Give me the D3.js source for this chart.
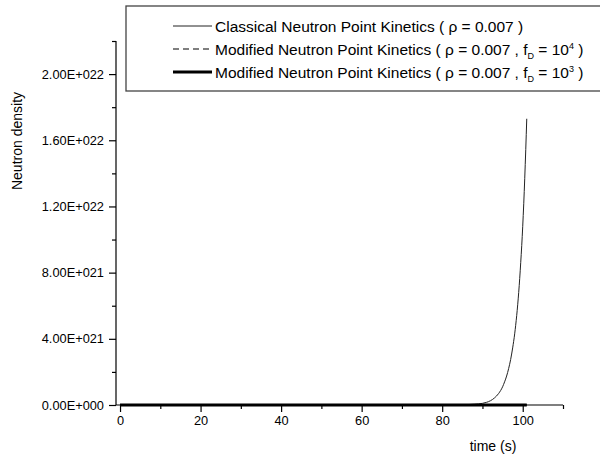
<!DOCTYPE html>
<html><head><meta charset="utf-8">
<script src="https://cdn.jsdelivr.net/npm/d3@7"></script>
<style>
html,body{margin:0;padding:0;background:#fff;}
svg text{font-family:"Liberation Sans", Arial, sans-serif;fill:#000;}
</style></head>
<body><svg id="c" width="600" height="458"></svg>
<script>
// ---- data ----
const classicalTime  = [0, 10, 20, 30, 40, 50, 60, 70, 80, 85, 88, 90, 91, 92, 93, 94, 95, 95.5, 96, 96.5, 97, 97.5, 98, 98.5, 99, 99.5, 100, 100.5, 101];
const classicalValue = [1e10, 1e12, 1e13, 1e14, 1e15, 1e16, 1e17, 5e17, 3e18, 1.5e19, 5e19, 1.0e20, 1.6e20, 2.6e20, 4.3e20, 6.9e20, 1.1e21, 1.4e21, 1.75e21, 2.2e21, 2.75e21, 3.45e21, 4.3e21, 5.4e21, 6.8e21, 8.6e21, 1.08e22, 1.37e22, 1.73e22];
const modTime        = [0, 10, 20, 30, 40, 50, 60, 70, 80, 90, 101];
const modF4Value     = [1e10, 1e11, 1e12, 1e13, 1e14, 1e15, 1e16, 5e16, 1e17, 5e17, 2e18];
const modF3Value     = [1e10, 1e10, 1e11, 1e11, 1e12, 1e12, 1e13, 1e13, 1e14, 1e14, 5e14];
const xTicksMajor = [0, 20, 40, 60, 80, 100];
const xTicksMinor = [10, 30, 50, 70, 90, 110];
const yTicksMajor = [0, 4e21, 8e21, 1.2e22, 1.6e22, 2e22];
const yTicksMinor = [2e21, 6e21, 1e22, 1.4e22, 1.8e22, 2.2e22];
const xDomain = [-1, 110];
const yDomain = [0, 2.2e22];
const legendLabels = [
  {main:"Classical Neutron Point Kinetics ( \u03C1 = 0.007 )"},
  {main:"Modified Neutron Point Kinetics ( \u03C1 = 0.007 , f", sub:"D", mid:" = 10", sup:"4", end:" )"},
  {main:"Modified Neutron Point Kinetics ( \u03C1 = 0.007 , f", sub:"D", mid:" = 10", sup:"3", end:" )"}
];

// ---- layout ----
const svg = d3.select("#c");
const x = d3.scaleLinear().domain(xDomain).range([116, 563]);
const y = d3.scaleLinear().domain(yDomain).range([405, 41]);

function sci(v){
  if (v === 0) return "0.00E+000";
  const e = Math.floor(Math.log10(v) + 1e-9);
  const m = v / Math.pow(10, e);
  return m.toFixed(2) + "E+" + String(e).padStart(3, "0");
}

// Y axis
const yAxisMajor = d3.axisLeft(y).tickValues(yTicksMajor).tickSize(7).tickPadding(5).tickFormat(sci);
const yAxisMinor = d3.axisLeft(y).tickValues(yTicksMinor).tickSize(4).tickFormat("");
const gy = svg.append("g").attr("transform","translate(116,0)").call(yAxisMajor)
  .attr("font-family", null).attr("font-size", null);
svg.append("g").attr("transform","translate(116,0)").call(yAxisMinor).select(".domain").remove();
gy.select(".domain").attr("d", "M0," + y.range()[1] + "V" + y.range()[0]);
gy.selectAll("text").style("font-size","12.8px");

// X axis
const xAxisMajor = d3.axisBottom(x).tickValues(xTicksMajor).tickSize(7).tickPadding(4).tickFormat(d3.format("d"));
const xAxisMinor = d3.axisBottom(x).tickValues(xTicksMinor).tickSize(4).tickFormat("");
const gx = svg.append("g").attr("transform","translate(0,405)").call(xAxisMajor)
  .attr("font-family", null).attr("font-size", null);
svg.append("g").attr("transform","translate(0,405)").call(xAxisMinor).select(".domain").remove();
gx.select(".domain").attr("d", "M" + x.range()[0] + ",0H" + x.range()[1]);
gx.selectAll("text").style("font-size","12.8px");
svg.selectAll(".domain, .tick line").attr("stroke","#000").attr("stroke-width",1.2);

// axis titles
svg.append("text").attr("transform","translate(22,141) rotate(-90)").attr("text-anchor","middle")
  .style("font-size","14px").text("Neutron density");
svg.append("text").attr("x",493).attr("y",451).attr("text-anchor","middle")
  .style("font-size","14px").text("time (s)");

// lines
const line = d3.line().x(d => x(d[0])).y(d => y(d[1])).curve(d3.curveMonotoneX);
svg.append("path").datum(classicalTime.map((t,i)=>[t, classicalValue[i]]))
  .attr("d", line).attr("fill","none").attr("stroke","#222").attr("stroke-width",1);
svg.append("path").datum(modTime.map((t,i)=>[t, modF4Value[i]]))
  .attr("d", line).attr("fill","none").attr("stroke","#000").attr("stroke-width",1.2).attr("stroke-dasharray","5,4");
svg.append("path").datum(modTime.map((t,i)=>[t, modF3Value[i]]))
  .attr("d", line).attr("fill","none").attr("stroke","#000").attr("stroke-width",3);

// legend
svg.append("rect").attr("x",126).attr("y",6).attr("width",490).attr("height",85)
  .attr("fill","#fff").attr("stroke","#444").attr("stroke-width",1.3);
const styles = [{w:1, dash:null, c:"#222"},{w:1.2, dash:"6,4", c:"#000"},{w:3, dash:null, c:"#000"}];
legendLabels.forEach((L,i) => {
  const cy = 26 + i*23;
  svg.append("line").attr("x1",173).attr("x2",212).attr("y1",cy).attr("y2",cy)
    .attr("stroke",styles[i].c).attr("stroke-width",styles[i].w).attr("stroke-dasharray",styles[i].dash);
  const t = svg.append("text").attr("x",215).attr("y",cy+5.5).style("font-size","15.5px");
  t.append("tspan").text(L.main);
  if (L.sub){
    t.append("tspan").attr("dy",4).style("font-size","9px").text(L.sub);
    t.append("tspan").attr("dy",-4).text(L.mid);
    t.append("tspan").attr("dy",-6).style("font-size","9px").text(L.sup);
    t.append("tspan").attr("dy",6).text(L.end);
  }
});
</script></body></html>
